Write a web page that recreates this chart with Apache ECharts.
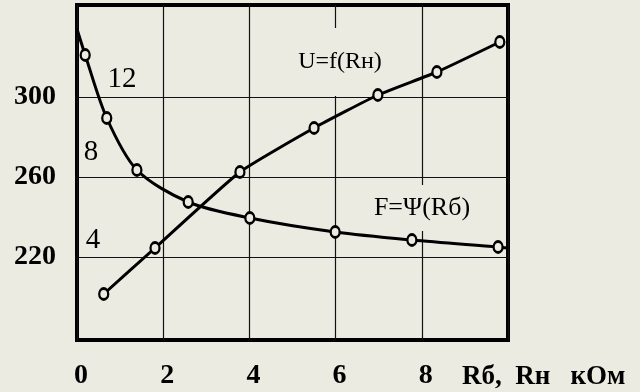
<!DOCTYPE html>
<html>
<head>
<meta charset="utf-8">
<script src="https://cdn.jsdelivr.net/npm/echarts@6/dist/echarts.min.js"></script>
<style>
html,body{margin:0;padding:0;background:#ecebe1;}
#c{width:640px;height:392px;}
</style>
</head>
<body>
<div id="c"></div>
<script>
// ---- data ----
const xTickValues = [0, 2, 4, 6, 8];
const yTickValues = [220, 260, 300];
const uR   = [0.62, 1.81, 3.78, 5.5, 6.98, 8.35, 9.81];
const uVal = [201.5, 224.5, 262.5, 284.5, 301, 312.5, 327.5];
const fR   = [0, 0.19, 0.69, 1.39, 2.58, 4.01, 5.99, 7.77, 9.77, 10];
const fVal = [334, 321, 289.5, 263.5, 247.5, 239.5, 232.5, 228.5, 225, 224.5];
const fMarked = [false, true, true, true, true, true, true, true, true, false];
const innerScale = ['12', '8', '4'];
const xName = 'Rб,  Rн   кОм';
const uLabel = 'U=f(Rн)';
const fLabel = 'F=Ψ(Rб)';

const BG = '#ecebe1';
const serif = '"Liberation Serif", "DejaVu Serif", serif';

const uData = uR.map((x, i) => [x, uVal[i]]);
const fData = fR.map((x, i) => fMarked[i] ? [x, fVal[i]] : { value: [x, fVal[i]], symbol: 'none' });

const chart = echarts.init(document.getElementById('c'), null, { renderer: 'canvas' });
const markerStyle = { color: BG, borderColor: '#000', borderWidth: 2.5 };

chart.setOption({
  backgroundColor: BG,
  animation: false,
  grid: { left: 77, right: 132, top: 5, bottom: 52, show: true, borderColor: '#000', borderWidth: 4, backgroundColor: 'transparent' },
  xAxis: {
    type: 'value', min: 0, max: 10, interval: 2,
    axisLine: { show: false },
    axisTick: { show: false },
    splitLine: { show: true, lineStyle: { color: '#111', width: 1.2 } },
    axisLabel: {
      customValues: xTickValues,
      margin: 22, color: '#000', fontFamily: serif, fontWeight: 'bold', fontSize: 28,
      padding: [0, 0, 0, 8]
    },
    name: xName, nameLocation: 'end', nameGap: -46,
    nameTextStyle: { color: '#000', fontFamily: serif, fontWeight: 'bold', fontSize: 27, verticalAlign: 'top', align: 'left', padding: [24, 0, 0, 0] }
  },
  yAxis: {
    type: 'value', min: 178.5, max: 346,
    axisLine: { show: false },
    axisTick: { show: false, customValues: yTickValues },
    splitLine: { show: true, lineStyle: { color: '#111', width: 1.2 } },
    axisLabel: {
      customValues: yTickValues,
      margin: 21, color: '#000', fontFamily: serif, fontWeight: 'bold', fontSize: 28,
      padding: [5, 0, 0, 0]
    }
  },
  graphic: [
    { type: 'text', z: 1, x: 122, y: 79, style: { text: innerScale[0], font: '29px ' + serif, fill: '#000', align: 'center', verticalAlign: 'middle' } },
    { type: 'text', z: 1, x: 91, y: 152, style: { text: innerScale[1], font: '29px ' + serif, fill: '#000', align: 'center', verticalAlign: 'middle' } },
    { type: 'text', z: 1, x: 93, y: 240, style: { text: innerScale[2], font: '29px ' + serif, fill: '#000', align: 'center', verticalAlign: 'middle' } },
    { type: 'text', z: 1, x: 340, y: 62, style: { text: uLabel, font: '24px ' + serif, fill: '#000', align: 'center', verticalAlign: 'middle', backgroundColor: BG, padding: [32, 2, 12, 2] } },
    { type: 'text', z: 1, x: 422, y: 208, style: { text: fLabel, font: '26px ' + serif, fill: '#000', align: 'center', verticalAlign: 'middle', backgroundColor: BG, padding: [14, 2, 6, 2] } }
  ],
  series: [
    {
      name: 'U', type: 'line', data: uData, smooth: 0.15,
      symbol: 'circle', symbolSize: [9, 11], itemStyle: markerStyle,
      lineStyle: { color: '#000', width: 3 }, z: 3
    },
    {
      name: 'F', type: 'line', data: fData, smooth: 0.3,
      symbol: 'circle', symbolSize: [9, 11], itemStyle: markerStyle,
      lineStyle: { color: '#000', width: 3 }, z: 3
    }
  ]
});
</script>
</body>
</html>
